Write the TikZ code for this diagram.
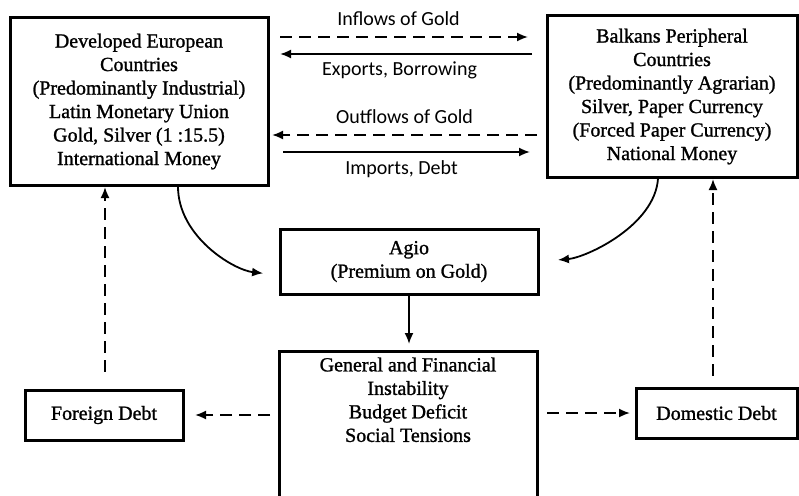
\documentclass[tikz,border=0pt]{standalone}
\usepackage{fontspec}
\setmainfont{Liberation Serif}
\newfontfamily\boxfont{Liberation Serif}[FakeBold=1.2]
\newfontfamily\flowfont{Carlito}
\usetikzlibrary{arrows.meta}

\tikzset{
  box/.style={draw, line width=3pt, align=center, inner sep=0pt,
    font=\boxfont\fontsize{20}{23.5}\selectfont},
  flow/.style={line width=1.8pt, -{Latex[length=11pt,width=9pt]}},
  dflow/.style={flow, dash pattern=on 12pt off 7pt},
  flowlabel/.style={font=\flowfont\fontsize{20}{24}\selectfont, inner sep=2pt},
}

\begin{document}
\begin{tikzpicture}[x=1pt,y=-1pt]
  \useasboundingbox (0,0) rectangle (799,495);

  % boxes
  \node[box, minimum width=258, minimum height=167] (euro) at (139,101.5)
    {Developed European\\Countries\\(Predominantly Industrial)\\Latin Monetary Union\\Gold, Silver (1 :15.5)\\International Money};
  \node[box, minimum width=250, minimum height=161] (balkan) at (672,96.5)
    {Balkans Peripheral\\Countries\\(Predominantly Agrarian)\\Silver, Paper Currency\\(Forced Paper Currency)\\National Money};
  \node[box, minimum width=258, minimum height=65] (agio) at (409,261.5)
    {Agio\\(Premium on Gold)};
  \node[box, minimum width=258, anchor=north, inner ysep=6pt, text depth=80pt] (instab) at (408,350)
    {General and Financial\\Instability\\Budget Deficit\\Social Tensions};
  \node[box, minimum width=158, minimum height=50] (foreign) at (104,415) {Foreign Debt};
  \node[box, minimum width=161, minimum height=50] (domestic) at (716.5,413) {Domestic Debt};

  % flows between the two groups of countries
  \draw[dflow, shorten <=10.5pt, shorten >=17.5pt] (euro.east |- 0,37) -- (balkan.west |- 0,37)
    node[flowlabel, midway, above=8pt, xshift=-9pt] {Inflows of Gold};
  \draw[flow, shorten <=13.5pt, shorten >=10.5pt] (balkan.west |- 0,54) -- (euro.east |- 0,54)
    node[flowlabel, midway, below=5pt, xshift=-8pt] {Exports, Borrowing};
  \draw[dflow, shorten <=8.5pt, shorten >=2.5pt] (balkan.west |- 0,135) -- (euro.east |- 0,135)
    node[flowlabel, midway, above=8pt, xshift=-3pt] {Outflows of Gold};
  \draw[flow, shorten <=13.5pt, shorten >=15.5pt] (euro.east |- 0,152) -- (balkan.west |- 0,152)
    node[flowlabel, midway, below=6pt, xshift=-6pt] {Imports, Debt};

  % into and out of the agio
  \draw[flow, shorten >=15.5pt] ([xshift=39pt]euro.south) .. controls +(0,50) and +(-45,-5) .. ([yshift=-13.5pt]agio.west);
  \draw[flow, shorten >=18.5pt] ([xshift=-14pt]balkan.south) .. controls +(-3,47) and +(47,-4) .. (agio.east);
  \draw[flow, shorten >=6pt] (agio.south) -- (agio.south |- instab.north);

  % debts
  \draw[dflow, shorten <=7.5pt, shorten >=10.5pt] (instab.west |- foreign.east) -- (foreign.east);
  \draw[dflow, shorten <=8.5pt, shorten >=4.5pt] (instab.east |- domestic.west) -- (domestic.west);
  \draw[dflow, shorten <=17pt, shorten >=0.5pt] ([xshift=1pt]foreign.north) -- ([xshift=1pt]foreign.north |- euro.south);
  \draw[dflow, shorten <=11pt, shorten >=0.5pt] ([xshift=-3.5pt]domestic.north) -- ([xshift=-3.5pt]domestic.north |- balkan.south);
\end{tikzpicture}
\end{document}
